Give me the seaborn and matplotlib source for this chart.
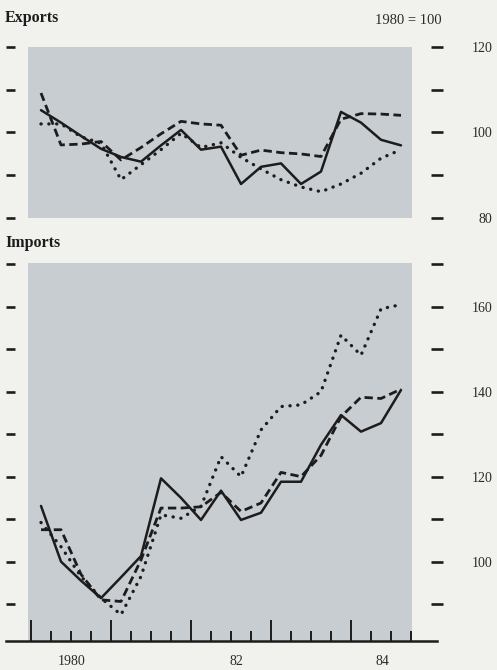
import matplotlib
matplotlib.use("Agg")
import matplotlib.pyplot as plt
import seaborn as sns

# Quarterly index, 1980 Q1 .. 1984 Q3 (1980 = 100)
quarters = list(range(1, 20))

exports_solid = [105.2, 102.3, 99.2, 96.2, 94.3, 93.2, 97.0, 100.6, 96.0, 96.7,
                 88.0, 92.0, 92.8, 88.0, 90.9, 104.8, 102.3, 98.3, 97.0]
exports_dashed = [109.2, 97.1, 97.3, 97.9, 93.6, 96.5, 99.7, 102.6, 102.0, 101.7,
                  94.7, 95.9, 95.3, 95.0, 94.4, 103.1, 104.4, 104.3, 104.0]
exports_dotted = [102.0, 102.0, 99.0, 97.5, 89.0, 92.5, 96.0, 99.8, 96.5, 97.6,
                  94.2, 91.5, 89.0, 87.3, 86.2, 88.0, 90.5, 94.0, 96.0]

imports_solid = [113.1, 100.0, 95.5, 91.4, 96.3, 101.3, 119.6, 115.0, 109.8, 116.7,
                 109.8, 111.5, 118.8, 118.8, 127.5, 134.5, 130.6, 132.6, 140.4]
imports_dashed = [107.5, 107.5, 97.0, 91.0, 90.6, 100.4, 112.6, 112.6, 112.9, 116.3,
                  111.8, 113.8, 121.0, 120.0, 125.0, 134.1, 138.7, 138.4, 140.6]
imports_dotted = [109.2, 103.5, 96.5, 91.4, 87.5, 96.5, 111.0, 110.2, 113.0, 124.7,
                  120.0, 131.0, 136.5, 136.9, 140.0, 153.3, 148.6, 159.5, 160.5]

exports_ticks = [80, 90, 100, 110, 120]
exports_ticklabels = [80, 100, 120]
imports_ticks = [90, 100, 110, 120, 130, 140, 150, 160, 170]
imports_ticklabels = [100, 120, 140, 160]
year_labels = ["1980", "82", "84"]

# ---- styling -------------------------------------------------------------
sns.set_theme(style="white")
plt.rcParams["font.family"] = ["Liberation Serif", "DejaVu Serif"]

PAGE = "#f1f1ee"
PANEL = "#c8cdd2"
INK = "#1c1c1c"

W, H = 497, 670
fig = plt.figure(figsize=(W / 100, H / 100), dpi=100, facecolor=PAGE)


def frac_box(x0, y0, x1, y1):
    return [x0 / W, 1 - y1 / H, (x1 - x0) / W, (y1 - y0) / H]


ax_e = fig.add_axes(frac_box(6, 46.7, 437, 218.3))
ax_i = fig.add_axes(frac_box(6, 263, 437, 641))

XLIM = (-0.75, 20.8)
SHADE = (0.35, 19.55)

line_styles = {
    "solid": dict(linestyle="-", linewidth=1.8),
    "dashed": dict(linestyle=(0, (3.0, 1.6)), linewidth=2.0),
    "dotted": dict(linestyle=(0, (0.05, 2.3)), linewidth=2.4,
                   dash_capstyle="round"),
}


def draw_panel(ax, series, ticks, ticklabels, ylim):
    ax.set_facecolor(PAGE)
    ax.axvspan(*SHADE, color=PANEL, zorder=0, lw=0)
    for key, vals in series.items():
        sns.lineplot(x=quarters, y=vals, ax=ax, color=INK, zorder=3,
                     **line_styles[key])
    ax.set_xlim(*XLIM)
    ax.set_ylim(*ylim)
    for s in ax.spines.values():
        s.set_visible(False)
    ax.set_yticks(ticks)
    ax.set_yticklabels([str(t) if t in ticklabels else "" for t in ticks])
    ax.tick_params(axis="y", which="major", left=True, right=True,
                   labelleft=False, labelright=True, direction="inout",
                   length=8, width=1.9, color=INK, pad=36,
                   labelsize=10, labelcolor="#2a2a2a")
    for lab in ax.get_yticklabels():
        lab.set_ha("right")
    # left-hand dashes sit just inside the frame, pointing right
    for t in ax.yaxis.get_major_ticks():
        t.tick1line.set_marker(1)
        t.tick1line.set_markersize(6.5)
        t.tick1line.set_markeredgewidth(1.9)
    ax.grid(False)
    ax.set_xlabel("")
    ax.set_ylabel("")


draw_panel(ax_e, {"solid": exports_solid, "dashed": exports_dashed,
                  "dotted": exports_dotted},
           exports_ticks, exports_ticklabels, (80, 120))
draw_panel(ax_i, {"solid": imports_solid, "dashed": imports_dashed,
                  "dotted": imports_dotted},
           imports_ticks, imports_ticklabels, (81.3, 170.3))

# Exports: no x axis
ax_e.set_xticks([])

# Imports: quarterly time axis with year boundaries
ax_i.spines["bottom"].set_visible(True)
ax_i.spines["bottom"].set_color(INK)
ax_i.spines["bottom"].set_linewidth(1.8)
ax_i.set_xticks([0.5 + 4 * k for k in range(5)])
ax_i.set_xticks([0.5 + k for k in range(20)], minor=True)
ax_i.set_xticklabels([])
ax_i.tick_params(axis="x", which="major", bottom=True, direction="in",
                 length=15, width=1.4, color=INK)
ax_i.tick_params(axis="x", which="minor", bottom=True, direction="in",
                 length=7.5, width=1.4, color=INK)

for pos, lab in zip([2.55, 10.75, 18.05], year_labels):
    ax_i.text(pos, -0.055, lab, transform=ax_i.get_xaxis_transform(),
              ha="center", va="center", fontsize=10, color="#2a2a2a")

# Panel titles and base note
fig.text(5 / W, 1 - 18 / H, "Exports", fontsize=11.5, fontweight="bold",
         color=INK, va="center", ha="left")
fig.text(5 / W, 1 - 243 / H, "Imports", fontsize=11.5, fontweight="bold",
         color=INK, va="center", ha="left")
fig.text(408 / W, 1 - 20 / H, "1980 = 100", fontsize=10.5, color="#2a2a2a",
         va="center", ha="center")

fig.savefig("out.png", dpi=100, facecolor=PAGE)
